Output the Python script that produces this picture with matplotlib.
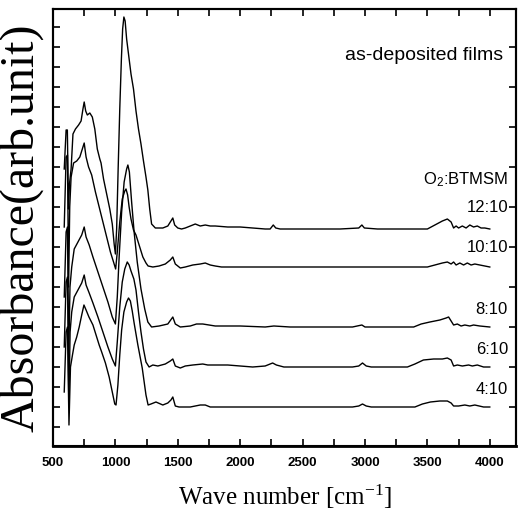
import matplotlib
matplotlib.use('Agg')
import matplotlib.pyplot as plt
import numpy as np

plt.rcParams.update({
    'font.family': 'sans-serif',
    'font.sans-serif': ['Liberation Sans', 'DejaVu Sans'],
    'mathtext.default': 'regular',
})

# FTIR spectra of as-deposited films.
# wavenumber (cm^-1) and absorbance (arb. units, 1 unit ~ one minor y-tick / 20)
RATIOS = ['4:10', '6:10', '8:10', '10:10', '12:10']
OFFSETS = [39, 79, 119, 179, 217]   # vertical stacking of the spectra

WN_410 = [590, 605, 616, 628, 640, 656, 670, 690, 710, 730, 748, 765, 788, 820, 845, 870,
          890, 920, 950, 975, 995, 1005, 1020, 1035, 1050, 1068, 1090, 1105, 1120, 1135,
          1150, 1180, 1215, 1245, 1262, 1285, 1325, 1380, 1420, 1445, 1460, 1480, 1510,
          1600, 1680, 1720, 1760, 1900, 2200, 2900, 2950, 2980, 3010, 3050, 3400, 3460,
          3524, 3600, 3660, 3690, 3710, 3750, 3800, 3840, 3880, 3950, 4000]
AB_410 = [15, 75, 80, -18, 40, 52, 62, 70, 80, 92, 102, 97, 90, 82, 72, 62,
          55, 44, 30, 15, 3, 2, 22, 52, 77, 95, 105, 109, 106, 96,
          84, 62, 39, 12, 2, 3, 5, 2, 4, 7, 10, 1, 0,
          0, 2, 2, 0, 0, 0, 0, 1, 3, 1, 0, 0, 3,
          5, 6, 6, 4, 1, 1, 2, 1, 2, 0, 0]

WN_610 = [590, 605, 616, 627, 637, 650, 670, 700, 730, 750, 765, 790, 820, 860, 900, 940,
          975, 1000, 1015, 1035, 1055, 1075, 1095, 1110, 1125, 1148, 1165, 1185, 1205,
          1225, 1245, 1270, 1300, 1340, 1400, 1440, 1460, 1480, 1520, 1560, 1620, 1700,
          1740, 1800, 1900, 2000, 2100, 2200, 2260, 2290, 2350, 2600, 2900, 2950, 2980,
          3010, 3050, 3340, 3400, 3468, 3550, 3620, 3660, 3690, 3710, 3740, 3780, 3830,
          3860, 3900, 3950, 4000]
AB_610 = [20, 85, 90, -40, 35, 55, 70, 77, 84, 92, 82, 74, 64, 50, 35, 20,
          8, 1, 25, 60, 85, 98, 105, 102, 96, 88, 77, 55, 35,
          18, 5, 0, 2, 1, 3, 6, 8, 1, -1, 1, 2, 3,
          2, 2, 2, 1, 0, 1, 4, 2, 0, 0, 0, 1, 4,
          1, 0, 0, 3, 7, 8, 8, 9, 7, 1, 2, 1, 2,
          1, 2, 0, 0]

WN_810 = [590, 605, 616, 626, 636, 650, 670, 700, 730, 750, 765, 790, 820, 860, 900, 940,
          975, 1000, 1015, 1030, 1050, 1070, 1090, 1100, 1112, 1130, 1150, 1175, 1205,
          1235, 1260, 1290, 1350, 1420, 1460, 1480, 1520, 1600, 1650, 1700, 1750, 1800,
          2000, 2200, 2270, 2400, 2900, 2975, 3000, 3390, 3450, 3520, 3600, 3650, 3670,
          3690, 3710, 3740, 3770, 3800, 3840, 3870, 3920, 4000]
AB_810 = [30, 95, 100, -30, 40, 60, 78, 85, 92, 100, 90, 82, 70, 55, 40, 25,
          10, 3, 30, 70, 115, 145, 158, 162, 155, 125, 95, 65, 38,
          18, 5, 0, 1, 3, 10, 3, 0, 1, 3, 3, 2, 1,
          1, 0, 1, 0, 0, 2, 0, 0, 3, 5, 7, 9, 10,
          6, 2, 3, 1, 2, 1, 2, 1, 0]

WN_1010 = [590, 605, 616, 625, 634, 645, 665, 690, 715, 735, 750, 765, 785, 810, 840, 870,
           900, 930, 960, 985, 1002, 1015, 1035, 1055, 1075, 1085, 1098, 1110, 1125, 1145,
           1165, 1190, 1220, 1245, 1262, 1300, 1350, 1400, 1440, 1460, 1480, 1520, 1560,
           1620, 1680, 1720, 1760, 1800, 1850, 2000, 3500, 3560, 3620, 3660, 3690, 3710,
           3730, 3760, 3790, 3820, 3850, 3880, 3920, 3960, 4000]
AB_1010 = [40, 110, 112, -20, 60, 90, 104, 106, 110, 118, 124, 110, 100, 92, 75, 60,
           45, 30, 15, 5, -2, 15, 45, 68, 76, 78, 72, 60, 48, 37,
           32, 22, 10, 4, 1, 0, 1, 3, 7, 10, 3, -1, 0,
           2, 3, 4, 2, 1, 0, 0, 0, 2, 4, 5, 3, 5,
           2, 4, 2, 4, 2, 3, 2, 1, 0]

WN_1210 = [590, 605, 615, 624, 632, 645, 660, 680, 705, 725, 740, 750, 762, 775, 795, 815,
           835, 855, 875, 885, 905, 930, 955, 975, 990, 1000, 1010, 1022, 1035, 1048, 1058,
           1068, 1078, 1090, 1105, 1125, 1145, 1165, 1185, 1205, 1225, 1245, 1260, 1275,
           1290, 1320, 1380, 1420, 1445, 1460, 1475, 1500, 1530, 1560, 1600, 1640, 1680,
           1720, 1760, 1800, 1900, 2000, 2100, 2200, 2240, 2265, 2285, 2320, 2500, 2800,
           2950, 2975, 2995, 3100, 3300, 3500, 3560, 3620, 3660, 3690, 3710, 3730, 3750,
           3780, 3810, 3840, 3870, 3900, 3930, 3960, 4000]
AB_1210 = [60, 99, 99, 20, 45, 60, 95, 100, 104, 108, 120, 127, 118, 114, 116, 112,
           100, 80, 70, 66, 50, 35, 20, 5, -15, -25, 0, 60, 120, 170, 200,
           212, 208, 190, 175, 155, 140, 118, 100, 85, 68, 52, 39, 20,
           5, 1, 1, 3, 8, 11, 4, 1, 0, 1, 3, 5, 3,
           4, 3, 3, 2, 2, 1, 0, 0, 4, 1, 0, 0, 0,
           1, 4, 1, 0, 0, 0, 4, 8, 10, 7, 1, 3, 1,
           3, 1, 4, 2, 3, 1, 1, 0]

SPECTRA = [(WN_410, AB_410), (WN_610, AB_610), (WN_810, AB_810),
           (WN_1010, AB_1010), (WN_1210, AB_1210)]
LABEL_Y = [56, 96, 137, 198, 238]

fig = plt.figure(figsize=(5.18, 5.15), dpi=100)
ax = fig.add_axes([53 / 518, 69 / 515, 463 / 518, 437 / 515])

for (wn, ab), off in zip(SPECTRA, OFFSETS):
    ax.plot(wn, np.array(ab) + off, color='black', lw=1.0)

for lab, ly in zip(RATIOS, LABEL_Y):
    ax.text(4145, ly, lab, ha='right', va='center', fontsize=12)
ax.text(4145, 266, 'O$_2$:BTMSM', ha='right', va='center', fontsize=12)
ax.text(4105, 391, 'as-deposited films', ha='right', va='center', fontsize=14)

ax.set_xlim(500, 4210)
ax.set_ylim(0, 437)
ax.set_xticks(np.arange(500, 4001, 500))
ax.set_xticks(np.arange(750, 4001, 500), minor=True)
ax.set_yticks(np.arange(19, 437, 20))
ax.set_yticklabels([])
ax.tick_params(axis='both', which='both', direction='in', length=5, width=1.2,
               top=True, right=False)
ax.tick_params(axis='x', labelsize=9.5, pad=8)
for t in ax.get_xticklabels():
    t.set_fontweight('bold')

# right-hand ticks every other step
ax2 = ax.twinx()
ax2.set_ylim(0, 437)
ax2.set_yticks(np.arange(39, 437, 40))
ax2.set_yticklabels([])
ax2.tick_params(direction='in', length=5, width=1.2)

for a in (ax, ax2):
    for s in a.spines.values():
        s.set_linewidth(1.5)
ax.spines['bottom'].set_linewidth(2.0)

ax.set_xlabel('Wave number [cm$^{-1}$]', family='Liberation Serif', fontsize=18, labelpad=10)
ax.set_ylabel('Absorbance(arb.unit)', family='Liberation Serif', fontsize=34.5, labelpad=3)

fig.savefig('out.png', dpi=100)
